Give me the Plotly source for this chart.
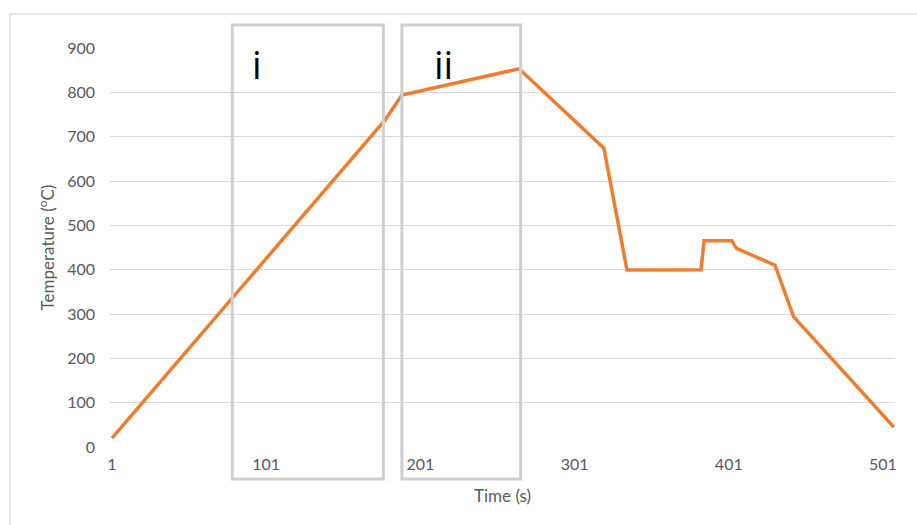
import plotly.graph_objects as go

# Heat-treatment temperature profile
time_s = [1, 178, 189, 265, 320, 335, 383, 385, 403, 406, 431, 443, 508]
temp_c = [20, 737, 794, 853, 674, 399, 400, 465, 465, 448, 410, 294, 45]

x_ticks = [1, 101, 201, 301, 401, 501]
y_ticks = [0, 100, 200, 300, 400, 500, 600, 700, 800, 900]

# Highlighted stages (time windows) and their labels
stage_names = ["i", "ii"]
stage_start = [79, 189]
stage_end = [177, 266]
stage_label_x = [95, 216]

FONT = "Lato, 'Open Sans', sans-serif"
GRID = "#d9d9d9"
TEXT = "#595959"

fig = go.Figure()
fig.add_trace(go.Scatter(
    x=time_s, y=temp_c, mode="lines",
    line=dict(color="#ED7D31", width=3.5),
    showlegend=False, hoverinfo="x+y",
))

shapes = [
    # chart frame
    dict(type="rect", xref="paper", yref="paper",
         x0=-0.1274, x1=1.2, y0=-0.4, y1=1.0852,
         line=dict(color="#e3e3e3", width=1.5), layer="below"),
]
annotations = []
for name, x0, x1, lx in zip(stage_names, stage_start, stage_end, stage_label_x):
    shapes.append(dict(type="rect", xref="x", yref="paper",
                       x0=x0, x1=x1, y0=-0.0802, y1=1.0576,
                       line=dict(color="#cfcfcf", width=3)))
    annotations.append(dict(x=lx, y=864, xref="x", yref="y", text=name,
                            showarrow=False,
                            font=dict(family="Open Sans, sans-serif", size=38, color="#000000")))

annotations.append(dict(x=254, y=-0.122, xref="x", yref="paper", text="Time (s)",
                        showarrow=False, yanchor="middle",
                        font=dict(family=FONT, size=17, color=TEXT)))

fig.update_layout(
    width=917, height=525,
    margin=dict(l=110, r=22, t=48, b=78),
    paper_bgcolor="white", plot_bgcolor="white",
    font=dict(family=FONT, size=16, color=TEXT),
    shapes=shapes, annotations=annotations,
    xaxis=dict(range=[-0.3, 508.8], tickvals=x_ticks,
               ticktext=[str(v) for v in x_ticks],
               showgrid=False, zeroline=False, showline=False,
               ticks="", ticklabelstandoff=6,
               tickfont=dict(family=FONT, size=16, color=TEXT)),
    yaxis=dict(range=[0, 900], tickvals=y_ticks,
               showgrid=True, gridcolor=GRID, gridwidth=1,
               zeroline=False, showline=False, ticks="",
               ticklabelstandoff=14,
               tickfont=dict(family=FONT, size=16, color=TEXT),
               title=dict(text="Temperature (<sup>o</sup>C)", standoff=8,
                          font=dict(family=FONT, size=17, color=TEXT))),
)

fig.write_html("out.html")
